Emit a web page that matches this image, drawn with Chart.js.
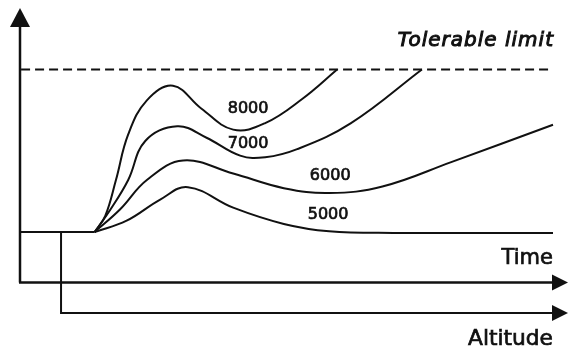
<!DOCTYPE html>
<html>
<head>
<meta charset="utf-8">
<script src="https://cdn.jsdelivr.net/npm/chart.js@4/dist/chart.umd.min.js"></script>
<style>
  html, body { margin: 0; padding: 0; background: #fff; }
  canvas { display: block; }
</style>
</head>
<body>
<canvas id="chart" width="568" height="356"></canvas>
<script>
// Schematic: time on x (0..100), level on y (baseline 0, tolerable limit 100)
const seriesNames = ['8000', '7000', '6000', '5000'];

const t8000 = [14, 16, 18, 20.3, 23.8, 28.7, 34, 40, 46, 53, 59.5];
const v8000 = [0, 10, 32, 60, 81, 90, 76, 63, 67, 82, 100];

const t7000 = [14, 17, 20.3, 23.5, 29.5, 35, 41.3, 46, 52, 62.1, 75.4];
const v7000 = [0, 14, 32, 56, 65, 58, 47, 46, 51, 67, 100];

const t6000 = [14, 18.8, 23.8, 30.6, 40, 49.5, 58, 68, 80.9, 100];
const v6000 = [0, 14, 32, 44, 36, 27, 24, 28, 43, 66];

const t5000 = [14, 20, 26.3, 31.5, 40, 49.5, 58, 70, 100];
const v5000 = [0, 7, 20, 27.6, 15, 5, 0.5, -0.5, -0.5];

const baseT = [0, 14];
const baseV = [0, 0];
const limitLevel = 100;

// where the curve names sit (time, level)
const labelT = [42.8, 42.8, 58.2, 57.8];
const labelV = [76, 54, 34.4, 10.4];

const zip = (xs, ys) => xs.map((x, i) => ({ x: x, y: ys[i] }));
const curves = [[t8000, v8000], [t7000, v7000], [t6000, v6000], [t5000, v5000]];

const lineStyle = {
    borderColor: '#111',
    borderWidth: 2,
    pointRadius: 0,
    tension: 0.4,
    fill: false,
    clip: false
};

const datasets = curves.map((c, i) => Object.assign({ label: seriesNames[i], data: zip(c[0], c[1]) }, lineStyle));
datasets.push(Object.assign({ label: 'base', data: zip(baseT, baseV) }, lineStyle, { tension: 0 }));
datasets.push(Object.assign({ label: 'limit', data: zip([0.2, 100], [limitLevel, limitLevel]) }, lineStyle, { tension: 0, borderDash: [9, 5] }));

function arrowHead(ctx, x, y, dir) {
    ctx.beginPath();
    if (dir === 'up') {
        ctx.moveTo(x, y);
        ctx.lineTo(x - 10, y + 19);
        ctx.lineTo(x + 10, y + 19);
    } else {
        ctx.moveTo(x, y);
        ctx.lineTo(x - 16, y - 8);
        ctx.lineTo(x - 16, y + 8);
    }
    ctx.closePath();
    ctx.fill();
}

// medium-weight text: fill plus a thin outline
function text(ctx, s, x, y, maxW) {
    ctx.fillText(s, x, y, maxW);
    ctx.strokeText(s, x, y, maxW);
}

const schematic = {
    id: 'schematic',
    afterDraw(chart) {
        const ctx = chart.ctx;
        const xs = chart.scales.x, ys = chart.scales.y;
        const x0 = xs.getPixelForValue(0);
        const yTime = ys.getPixelForValue(-31);
        const yBase = ys.getPixelForValue(0);
        const xAlt = xs.getPixelForValue(7.7);
        const yAlt = ys.getPixelForValue(-49.7);
        const right = chart.width;

        ctx.save();
        ctx.strokeStyle = '#111';
        ctx.fillStyle = '#111';
        ctx.lineWidth = 2.5;
        // vertical axis
        ctx.beginPath();
        ctx.moveTo(x0, yTime);
        ctx.lineTo(x0, 20);
        ctx.stroke();
        arrowHead(ctx, x0, 8, 'up');
        // time axis
        ctx.beginPath();
        ctx.moveTo(x0 - 1, yTime);
        ctx.lineTo(right - 10, yTime);
        ctx.stroke();
        arrowHead(ctx, right, yTime, 'right');
        // altitude axis
        ctx.lineWidth = 2;
        ctx.beginPath();
        ctx.moveTo(xAlt, yBase);
        ctx.lineTo(xAlt, yAlt);
        ctx.lineTo(right - 10, yAlt);
        ctx.stroke();
        arrowHead(ctx, right, yAlt, 'right');

        ctx.lineWidth = 0.7;
        // curve names
        ctx.font = '16px "DejaVu Sans"';
        ctx.textAlign = 'center';
        ctx.textBaseline = 'middle';
        seriesNames.forEach((n, i) => {
            text(ctx, n, xs.getPixelForValue(labelT[i]), ys.getPixelForValue(labelV[i]), 44);
        });

        const xr = xs.getPixelForValue(100);
        ctx.textAlign = 'right';
        ctx.lineWidth = 1;
        ctx.font = 'italic 20px "DejaVu Sans"';
        ctx.letterSpacing = '1px';
        text(ctx, 'Tolerable limit', xr + 1, ys.getPixelForValue(117.8), 160);
        ctx.letterSpacing = '0px';
        ctx.lineWidth = 0.7;
        ctx.font = '21px "DejaVu Sans"';
        text(ctx, 'Time', xr, ys.getPixelForValue(-16), 52);
        ctx.font = '22px "DejaVu Sans"';
        text(ctx, 'Altitude', xr, ys.getPixelForValue(-66), 85);
        ctx.restore();
    }
};

new Chart(document.getElementById('chart').getContext('2d'), {
    type: 'line',
    data: { datasets: datasets },
    options: {
        responsive: false,
        animation: false,
        layout: { padding: { left: 20, right: 15, top: 19, bottom: 73.5 } },
        scales: {
            x: { type: 'linear', min: 0, max: 100, display: false },
            y: { type: 'linear', min: -31, max: 131, display: false }
        },
        plugins: {
            legend: { display: false },
            tooltip: { enabled: false }
        }
    },
    plugins: [schematic]
});
</script>
</body>
</html>
